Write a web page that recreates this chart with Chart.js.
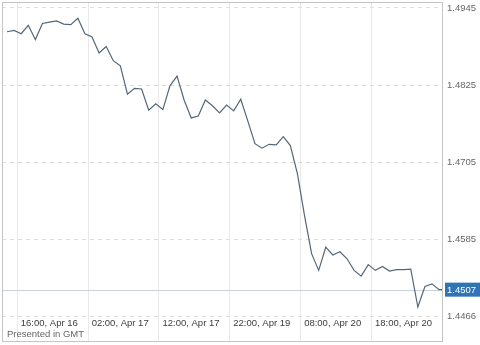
<!DOCTYPE html>
<html>
<head>
<meta charset="utf-8">
<script src="https://cdn.jsdelivr.net/npm/chart.js@4.4.1/dist/chart.umd.min.js"></script>
<style>
html,body{margin:0;padding:0;background:#fff;}
#wrap{width:480px;height:345px;position:relative;}
</style>
</head>
<body>
<div id="wrap"><canvas id="c" width="480" height="345"></canvas></div>
<script>
// Hourly closes (trading hours, weekend skipped)
const prices = [
  1.4908, 1.4910, 1.4905, 1.4918, 1.4896, 1.4921, 1.4923, 1.4925, 1.4920, 1.4919,
  1.4929, 1.4905, 1.4900, 1.4875, 1.4885, 1.4863, 1.4855, 1.4811, 1.4820, 1.4819,
  1.4786, 1.4796, 1.4787, 1.4824, 1.4839, 1.4802, 1.4774, 1.4777, 1.4802, 1.4793,
  1.4782, 1.4794, 1.4785, 1.4803, 1.4769, 1.4734, 1.4727, 1.4733, 1.4732, 1.4745,
  1.4731, 1.4687, 1.4622, 1.4563, 1.4537, 1.4573, 1.4561, 1.4566, 1.4555, 1.4537,
  1.4528, 1.4546, 1.4537, 1.4543, 1.4536, 1.4538, 1.4538, 1.4539, 1.4480, 1.4512,
  1.4516, 1.4507
];
const currentPrice = 1.4507;
// time axis in trading hours counted from 00:00 Apr 16
const firstHour = 14.55;
const nowHour = 76.1;
const axisStart = 13.84;
const tickHours = [16, 26, 36, 46, 56, 66];
const tickLabels = ["16:00, Apr 16", "02:00, Apr 17", "12:00, Apr 17", "22:00, Apr 19", "08:00, Apr 20", "18:00, Apr 20"];
const priceTicks = [1.4945, 1.4825, 1.4705, 1.4585, 1.4466];
const yMin = 1.44256, yMax = 1.49543;

const points = prices.map((v, i) => ({x: firstHour + i, y: v}));
points.push({x: nowHour, y: currentPrice});

const FONT = "Liberation Sans, Arial, sans-serif";

const overlay = {
  id: 'overlay',
  beforeDatasetsDraw(chart) {
    const {ctx, chartArea: a, scales: {y}} = chart;
    const py = Math.round(y.getPixelForValue(currentPrice)) + 0.5;
    ctx.save();
    ctx.strokeStyle = '#c9d2da';
    ctx.lineWidth = 1;
    ctx.beginPath();
    ctx.moveTo(a.left, py); ctx.lineTo(a.right, py);
    ctx.stroke();
    ctx.restore();
  },
  afterDraw(chart) {
    const {ctx, chartArea: a, scales: {x, y}} = chart;
    ctx.save();
    // frame
    ctx.strokeStyle = '#c4c4c4';
    ctx.lineWidth = 1;
    ctx.strokeRect(a.left + 0.5, a.top + 0.5, a.right - a.left - 1, a.bottom - a.top - 1);
    // x labels inside plot
    ctx.fillStyle = '#3c3c3c';
    ctx.font = '9.5px ' + FONT;
    ctx.textAlign = 'left';
    ctx.textBaseline = 'middle';
    tickHours.forEach((h, i) => {
      ctx.fillText(tickLabels[i], x.getPixelForValue(h) + 3.5, 323.5);
    });
    ctx.fillStyle = '#666';
    ctx.fillText('Presented in GMT', 7, 334.5);
    // current price tag
    const py = y.getPixelForValue(currentPrice);
    ctx.fillStyle = '#2f74b5';
    ctx.fillRect(a.right + 2, py - 7, 480 - a.right - 2, 14);
    ctx.fillStyle = '#ffffff';
    ctx.font = '9.5px ' + FONT;
    ctx.fillText(currentPrice.toFixed(4), a.right + 4, py + 0.5);
    ctx.restore();
  }
};

new Chart(document.getElementById('c'), {
  type: 'line',
  data: {
    datasets: [{
      data: points,
      borderColor: '#536779',
      borderWidth: 1.2,
      pointRadius: 0,
      tension: 0,
      fill: false
    }]
  },
  options: {
    responsive: false,
    animation: false,
    events: [],
    layout: {padding: {left: 2, top: 2, right: 0, bottom: 3}},
    plugins: {legend: {display: false}, tooltip: {enabled: false}},
    scales: {
      x: {
        type: 'linear',
        min: axisStart,
        max: nowHour,
        afterBuildTicks(s) { s.ticks = tickHours.map(v => ({value: v})); },
        afterFit(s) { s.height = 0; s.paddingLeft = 0; s.paddingRight = 0; s.paddingTop = 0; s.paddingBottom = 0; },
        ticks: {display: false},
        grid: {color: '#e9e9e9', lineWidth: 1, drawTicks: false},
        border: {display: false}
      },
      y: {
        position: 'right',
        min: yMin,
        max: yMax,
        afterBuildTicks(s) { s.ticks = priceTicks.map(v => ({value: v})); },
        afterFit(s) { s.width = 37; s.paddingTop = 0; s.paddingBottom = 0; s.paddingLeft = 0; s.paddingRight = 0; },
        ticks: {
          color: '#666',
          font: {family: FONT, size: 9.5},
          padding: 4,
          callback: v => v.toFixed(4)
        },
        grid: {color: '#dedede', lineWidth: 1, drawTicks: false},
        border: {display: false, dash: [4, 4]}
      }
    }
  },
  plugins: [overlay]
});
</script>
</body>
</html>
